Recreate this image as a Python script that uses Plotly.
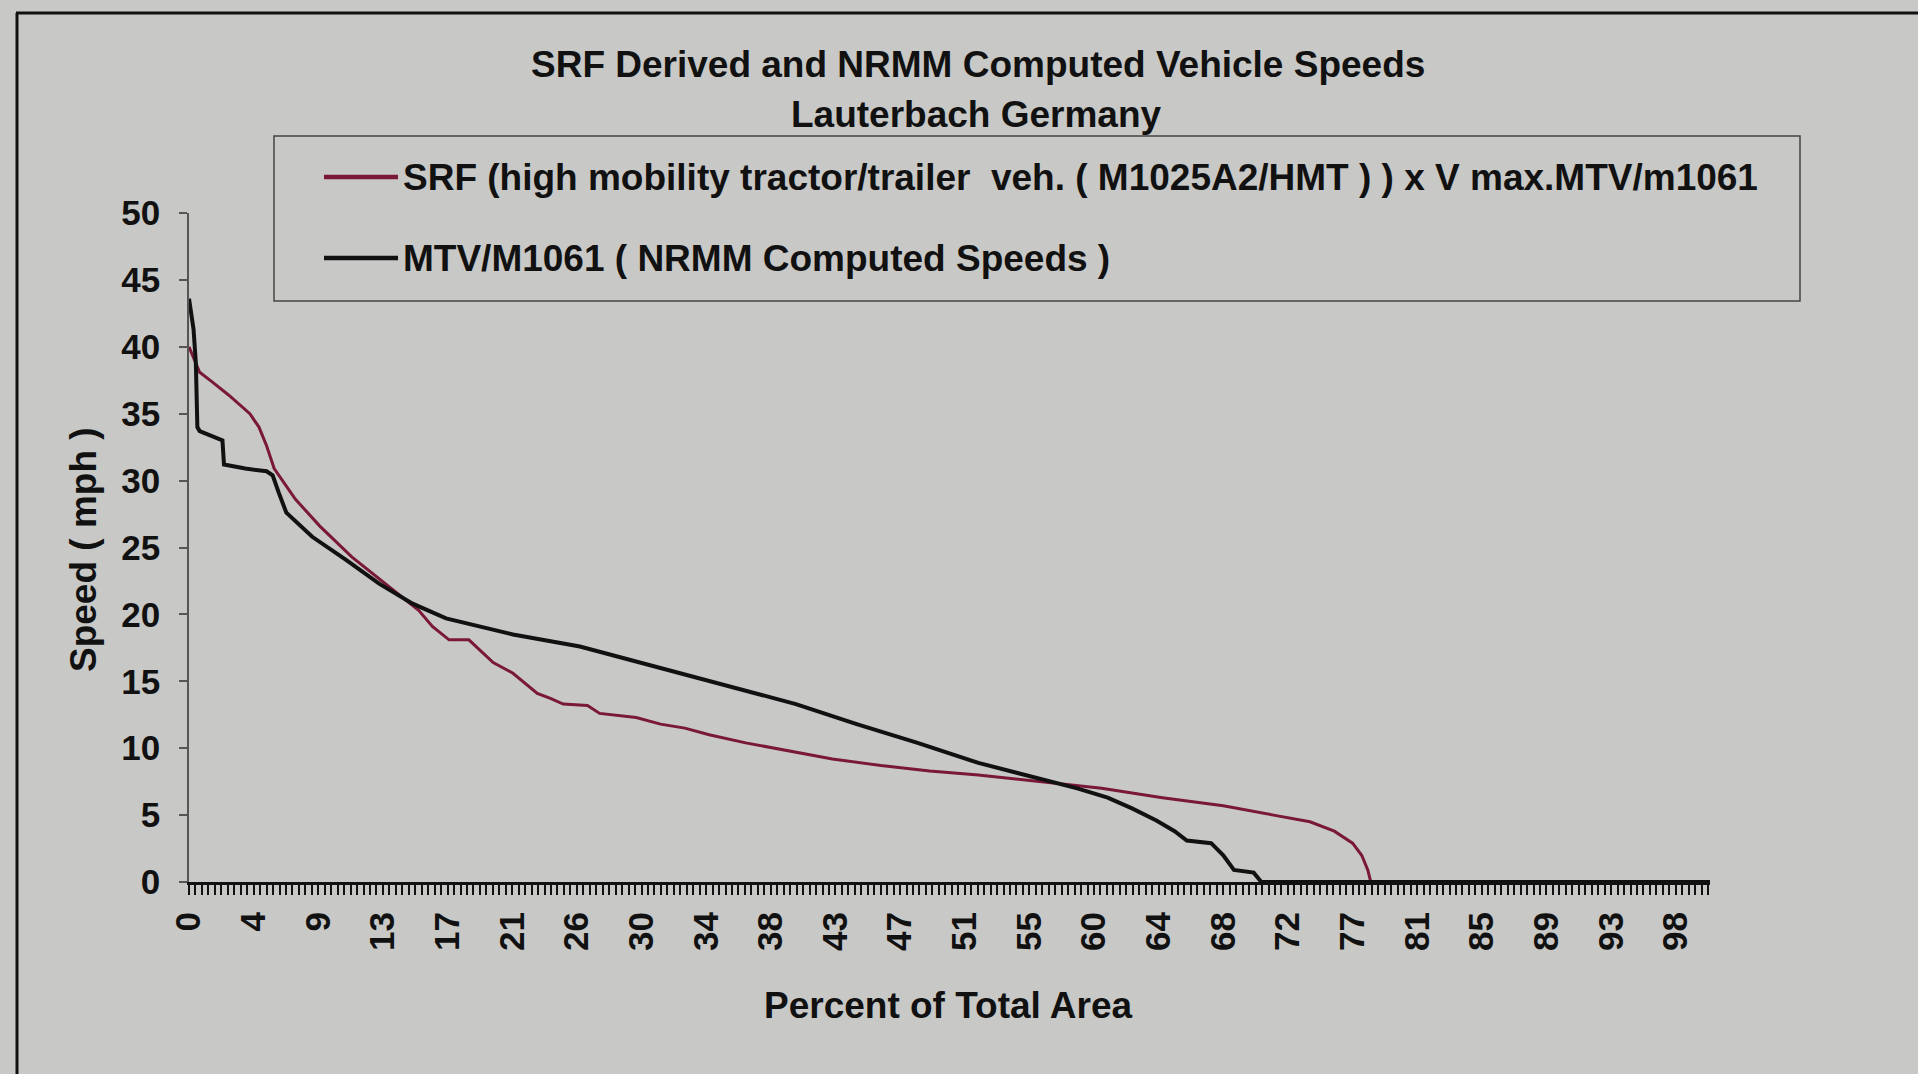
import plotly.graph_objects as go

# Datos (porcentaje del area total vs velocidad en mph)
srf_pct = [0, 0.7, 1.5, 2.6, 4.0, 4.6, 5.1, 5.6, 7.0, 8.6, 10.7, 12.9, 15.1, 16.0, 17.1,
           18.4, 20.0, 21.3, 22.9, 23.8, 24.6, 26.2, 27.0, 29.4, 31.0, 32.6, 34.2, 36.6,
           39.0, 42.3, 45.5, 48.7, 51.9, 56.0, 60.0, 64.0, 68.0, 71.3, 73.7, 75.3, 76.5,
           77.1, 77.5, 77.7, 100]
srf_speed = [40.0, 38.1, 37.4, 36.4, 35.0, 34.0, 32.6, 30.9, 28.6, 26.6, 24.3, 22.3, 20.3,
             19.1, 18.1, 18.1, 16.4, 15.6, 14.1, 13.7, 13.3, 13.2, 12.6, 12.3, 11.8, 11.5,
             11.0, 10.4, 9.9, 9.2, 8.7, 8.3, 8.0, 7.5, 7.0, 6.3, 5.7, 5.0, 4.5, 3.8, 2.9,
             2.0, 0.9, 0, 0]

mtv_pct = [0, 0.3, 0.45, 0.55, 0.7, 2.2, 2.3, 3.7, 5.1, 5.5, 5.9, 6.4, 8.1, 10.3, 12.5,
           14.7, 16.9, 19.1, 21.3, 25.7, 30.0, 35.8, 39.9, 43.9, 47.9, 51.9, 56.0, 58.4,
           60.4, 62.0, 63.6, 64.8, 65.6, 67.2, 68.0, 68.7, 70.0, 70.5, 100]
mtv_speed = [43.6, 41.3, 38.8, 34.0, 33.7, 33.0, 31.2, 30.9, 30.7, 30.4, 29.1, 27.6, 25.8,
             24.1, 22.3, 20.8, 19.7, 19.1, 18.5, 17.6, 16.3, 14.5, 13.3, 11.8, 10.4, 8.9,
             7.7, 7.0, 6.3, 5.5, 4.6, 3.8, 3.1, 2.9, 2.0, 0.9, 0.7, 0, 0]

x_tick_pos = [0, 4.25, 8.5, 12.75, 17, 21.25, 25.5, 29.75, 34, 38.25, 42.5, 46.75, 51,
              55.25, 59.5, 63.75, 68, 72.25, 76.5, 80.75, 85, 89.25, 93.5, 97.75]
x_tick_text = ["0", "4", "9", "13", "17", "21", "26", "30", "34", "38", "43", "47", "51",
               "55", "60", "64", "68", "72", "77", "81", "85", "89", "93", "98"]
y_ticks = [0, 5, 10, 15, 20, 25, 30, 35, 40, 45, 50]

srf_name = "SRF (high mobility tractor/trailer\u00a0 veh. ( M1025A2/HMT ) ) x V max.MTV/m1061"
mtv_name = "MTV/M1061 ( NRMM Computed Speeds )"

RED = "#7a1838"
INK = "#111111"
BG = "#c8c8c6"
FONT = "Arial, Liberation Sans, sans-serif"

# area de trazado en pixeles
L, R, T, B = 189, 1710, 213, 882
W, H = R - L, B - T


def px(x):
    return (x - L) / W


def py(y):
    return (B - y) / H


fig = go.Figure()

fig.add_trace(go.Scatter(x=srf_pct, y=srf_speed, mode="lines", name=srf_name,
                         line=dict(color=RED, width=3)))
fig.add_trace(go.Scatter(x=mtv_pct, y=mtv_speed, mode="lines", name=mtv_name,
                         line=dict(color=INK, width=4)))

tfont = dict(family=FONT, size=35, color=INK, weight="bold")

fig.update_layout(
    width=1918, height=1074,
    margin=dict(l=L, r=1918 - R, t=T, b=1074 - B),
    paper_bgcolor=BG, plot_bgcolor=BG,
    showlegend=False,
    xaxis=dict(range=[0, 100], tickmode="array", tickvals=x_tick_pos, ticktext=x_tick_text,
               tickangle=-90, tickfont=tfont, ticks="outside", ticklen=10, tickwidth=1.5,
               tickcolor=INK, showline=True, linecolor=INK, linewidth=3, showgrid=False,
               zeroline=False, ticklabelstandoff=3,
               minor=dict(tickmode="linear", tick0=0, dtick=0.425, ticks="outside",
                          ticklen=10, tickwidth=1.5, tickcolor=INK, showgrid=False)),
    yaxis=dict(range=[0, 50], tickmode="array", tickvals=y_ticks, tickfont=tfont,
               ticks="outside", ticklen=8, tickwidth=1.5, tickcolor="#555555",
               showline=True, linecolor="#555555", linewidth=1.5, showgrid=False,
               zeroline=False, ticklabelstandoff=12),
)

# borde exterior (arriba e izquierda) y recuadro de la leyenda
fig.add_shape(type="line", xref="paper", yref="paper", x0=px(16), x1=px(1918),
              y0=py(13), y1=py(13), line=dict(color=INK, width=3))
fig.add_shape(type="line", xref="paper", yref="paper", x0=px(17), x1=px(17),
              y0=py(13), y1=py(1074), line=dict(color=INK, width=3))
fig.add_shape(type="rect", xref="paper", yref="paper", x0=px(274), x1=px(1800),
              y0=py(301), y1=py(136), line=dict(color="#444444", width=1.5))

# leyenda
for name, color, yy in [(srf_name, RED, 177), (mtv_name, INK, 258)]:
    fig.add_shape(type="line", xref="paper", yref="paper", x0=px(324), x1=px(398),
                  y0=py(yy), y1=py(yy), line=dict(color=color, width=4.5))
    fig.add_annotation(text=name, xref="paper", yref="paper", x=px(401), y=py(yy),
                       xanchor="left", yanchor="middle", showarrow=False,
                       font=dict(family=FONT, size=37, color=INK, weight="bold"))

# titulos
tkw = dict(xref="paper", yref="paper", showarrow=False,
           font=dict(family=FONT, size=37, color=INK, weight="bold"))
fig.add_annotation(text="SRF Derived and NRMM Computed Vehicle Speeds", x=px(978), y=py(65),
                   xanchor="center", yanchor="middle", **tkw)
fig.add_annotation(text="Lauterbach Germany", x=px(976), y=py(114),
                   xanchor="center", yanchor="middle", **tkw)
fig.add_annotation(text="Percent of Total Area", x=px(948), y=py(1005),
                   xanchor="center", yanchor="middle", **tkw)
fig.add_annotation(text="Speed ( mph )", x=px(83), y=py(550), textangle=-90,
                   xanchor="center", yanchor="middle", **tkw)

fig.write_html("out.html", config=dict(displayModeBar=False),
               post_script="document.body.style.margin='0';"
               "document.body.style.background='#c8c8c6';")
